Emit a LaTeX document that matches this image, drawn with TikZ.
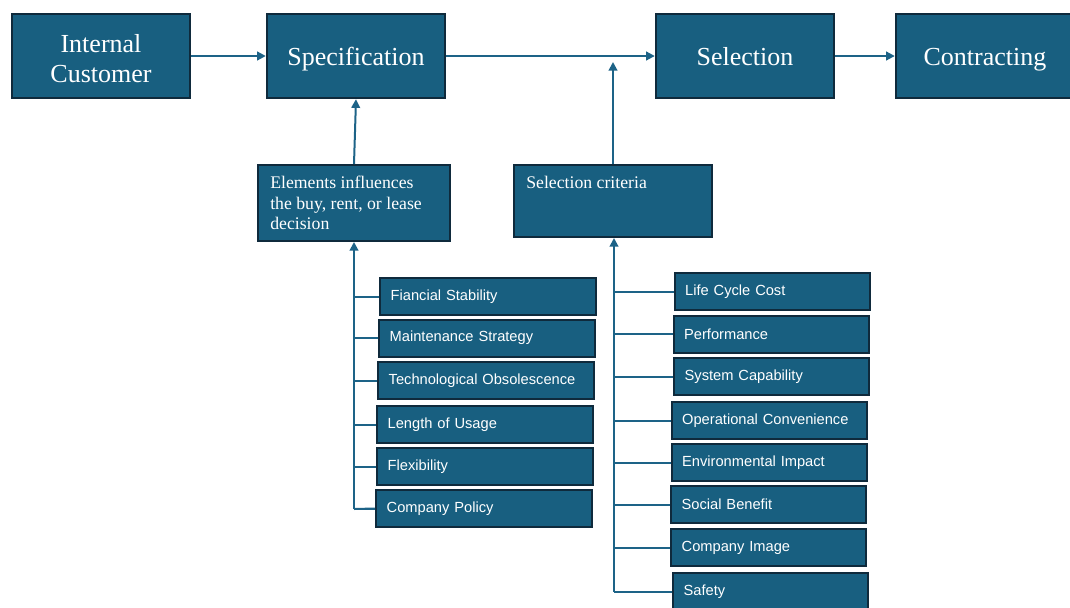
\documentclass[tikz,border=0pt]{standalone}
\usepackage{fontspec}
\setmainfont{Liberation Serif}
\newfontfamily\boxsans{Liberation Sans}
\usetikzlibrary{arrows.meta}
\definecolor{boxfill}{HTML}{185F80}
\definecolor{boxline}{HTML}{0F2A3C}
\definecolor{conn}{HTML}{1D6387}
\tikzset{
  bigbox/.style={draw=boxline, fill=boxfill, line width=1.8pt, text=white,
    minimum width=178*0.75pt, minimum height=84*0.75pt, align=center,
    font=\fontsize{19.5}{22.5}\selectfont, inner sep=0pt,
    text height=15pt, text depth=1.5pt},
  bigtext/.style={text=white, align=center, inner sep=0pt,
    font=\fontsize{19.5}{22.5}\selectfont},
  midbox/.style={draw=boxline, fill=boxfill, line width=1.5pt},
  midtext/.style={text=white, align=left, anchor=north west, inner sep=0pt,
    font=\fontsize{13.3}{15.4}\selectfont},
  item/.style={draw=boxline, fill=boxfill, line width=1.5pt, text=white,
    minimum height=37*0.75pt, text width=195*0.75pt-16pt, align=left,
    inner xsep=8pt, inner ysep=0pt, font=\boxsans\fontsize{11}{13}\selectfont},
  conn/.style={draw=conn, line width=1.5pt},
  arr/.style={conn, -{Triangle[length=6.5pt,width=6.5pt]}},
}
\begin{document}
\begin{tikzpicture}[x=0.75pt,y=-0.75pt]
\useasboundingbox (0,0) rectangle (1070,607);
% top row
\node[bigbox] (ic) at (101,56) {};
\node[bigtext] (ict) at (101,59) {Internal\\Customer};
\node[bigbox] (spec) at (356,56) {Specification};
\node[bigbox] (sel) at (745,56) {Selection};
\node[bigbox] (con) at (985,56) {Contracting};
\draw[arr] (ic.east) -- (spec.west);
\draw[arr] (spec.east) -- (sel.west);
\draw[arr] (sel.east) -- (con.west);
% middle boxes
\node[midbox, minimum width=192*0.75pt, minimum height=76*0.75pt] (elem) at (354,203) {};
\node[midtext] (elemt) at (270,176) {Elements influences\\the buy, rent, or lease\\decision};
\node[midbox, minimum width=198*0.75pt, minimum height=72*0.75pt] (crit) at (613,201) {};
\node[midtext] (critt) at (526,176) {Selection criteria};
\draw[arr] (elem.north) -- (spec.south);
\coordinate (critup) at (613,62);
\draw[arr] (crit.north) -- (critup);
% left items
\node[item, minimum width=216*0.75pt, text width=216*0.75pt-16pt] (l1) at (488,296.5) {Fiancial Stability};
\node[item, minimum width=216*0.75pt, text width=216*0.75pt-16pt] (l2) at (487,338) {Maintenance Strategy};
\node[item, minimum width=216*0.75pt, text width=216*0.75pt-16pt] (l3) at (486,380.5) {Technological Obsolescence};
\node[item, minimum width=216*0.75pt, text width=216*0.75pt-16pt] (l4) at (485,424.5) {Length of Usage};
\node[item, minimum width=216*0.75pt, text width=216*0.75pt-16pt] (l5) at (485,466.5) {Flexibility};
\node[item, minimum width=216*0.75pt, text width=216*0.75pt-16pt] (l6) at (484,508.5) {Company Policy};
\coordinate (lb) at (354,509);
\draw[arr] (lb) -- (elem.south);
\foreach \n in {l1,l2,l3,l4,l5,l6}{
  \draw[conn] (\n.west) -- (354,0 |- \n.west);
}
\draw[conn] (lb) -- (l6.west);
% right items
\node[item] (r1) at (772,291.5) {Life Cycle Cost};
\node[item] (r2) at (771,334) {Performance};
\node[item] (r3) at (771.5,376.5) {System Capability};
\node[item] (r4) at (769,420.5) {Operational Convenience};
\node[item] (r5) at (769,462.5) {Environmental Impact};
\node[item] (r6) at (768.5,504.5) {Social Benefit};
\node[item] (r7) at (768.5,547.5) {Company Image};
\node[item] (r8) at (770.5,591.5) {Safety};
\coordinate (rb) at (614,591.5);
\draw[arr] (rb) -- (614,0 |- crit.south);
\foreach \n in {r1,r2,r3,r4,r5,r6,r7,r8}{
  \draw[conn] (\n.west) -- (614,0 |- \n.west);
}
\end{tikzpicture}
\end{document}
